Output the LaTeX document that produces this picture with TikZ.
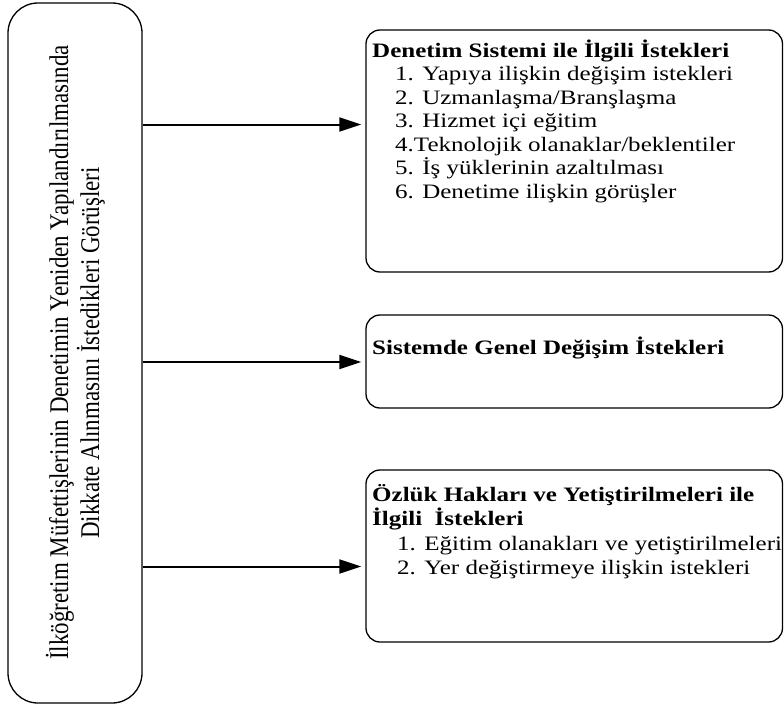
\documentclass[tikz,border=0pt]{standalone}
\usepackage{fontspec}
\setmainfont{Liberation Serif}[FakeStretch=1.22]
\newfontfamily\leftfont{Liberation Serif}[FakeStretch=0.85]
\usetikzlibrary{arrows.meta}
\begin{document}
\begin{tikzpicture}[x=1pt,y=-1pt,
  boxstyle/.style={draw=black,line width=1.3pt,rounded corners=14pt,inner sep=0pt},
  bigbox/.style={draw=black,line width=1.3pt,rounded corners=30pt,inner sep=0pt},
  arr/.style={line width=2pt,-{Triangle[length=22pt,width=14pt]},shorten >=4pt},
  txt/.style={inner sep=0pt,anchor=base west,font=\fontsize{20.5}{23}\selectfont},
  btxt/.style={txt,font=\fontsize{20.5}{23}\selectfont\bfseries},
  vtxt/.style={inner sep=0pt,anchor=base,rotate=90,font=\leftfont\fontsize{27}{32}\selectfont}]
\useasboundingbox (0,0) rectangle (784,709);
% boxes
\node[bigbox,minimum width=134pt,minimum height=700pt] (L) at (75,353) {};
\node[boxstyle,minimum width=416.5pt,minimum height=242pt] (B1) at (574.25,151) {};
\node[boxstyle,minimum width=416.5pt,minimum height=93pt] (B2) at (574.25,361.5) {};
\node[boxstyle,minimum width=416.5pt,minimum height=172pt] (B3) at (574.25,556) {};
% left text
\node[vtxt] (l1) at (68,352.5) {İlköğretim Müfettişlerinin Denetimin Yeniden Yapılandırılmasında};
\node[vtxt] (l2) at (99,353) {Dikkate Alınmasını İstedikleri Görüşleri};
% arrows
\coordinate (a1) at (0,124.5);
\coordinate (a2) at (0,362);
\coordinate (a3) at (0,566.5);
\draw[arr] (L.east |- a1) -- (B1.west |- a1);
\draw[arr] (L.east |- a2) -- (B2.west |- a2);
\draw[arr] (L.east |- a3) -- (B3.west |- a3);
% box 1 text
\node[btxt] (t1) at (372,57) {Denetim Sistemi ile İlgili İstekleri};
\node[txt] (i11) at (395,81) {1. Yapıya ilişkin değişim istekleri};
\node[txt] (i12) at (395,104.4) {2. Uzmanlaşma/Branşlaşma};
\node[txt] (i13) at (395,127.8) {3. Hizmet içi eğitim};
\node[txt] (i14) at (395,151.2) {4.Teknolojik olanaklar/beklentiler};
\node[txt] (i15) at (395,174.6) {5. İş yüklerinin azaltılması};
\node[txt] (i16) at (395,198) {6. Denetime ilişkin görüşler};
% box 2 text
\node[btxt] (t2) at (372,354) {Sistemde Genel Değişim İstekleri};
% box 3 text
\node[btxt] (t3a) at (372,501) {Özlük Hakları ve Yetiştirilmeleri ile};
\node[btxt] (t3b) at (372,525) {İlgili\ \ İstekleri};
\node[txt] (i31) at (397,550) {1. Eğitim olanakları ve yetiştirilmeleri};
\node[txt] (i32) at (397,574) {2. Yer değiştirmeye ilişkin istekleri};
\end{tikzpicture}
\end{document}
